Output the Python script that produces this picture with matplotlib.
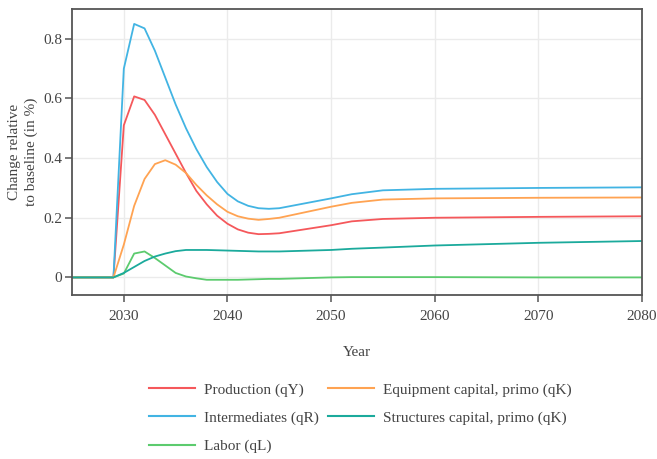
import matplotlib
matplotlib.use("Agg")
import matplotlib.pyplot as plt
from matplotlib.lines import Line2D

plt.rcParams["font.family"] = ["Liberation Serif", "DejaVu Serif"]

# Years of the simulation (annual through 2045, sparser afterwards)
years = [2025, 2026, 2027, 2028, 2029, 2030, 2031, 2032, 2033, 2034, 2035,
         2036, 2037, 2038, 2039, 2040, 2041, 2042, 2043, 2044, 2045,
         2050, 2052, 2055, 2060, 2070, 2080]

production = [0, 0, 0, 0, 0, 0.51, 0.607, 0.595, 0.545, 0.48, 0.415,
              0.35, 0.29, 0.245, 0.207, 0.18, 0.161, 0.15, 0.145, 0.146, 0.148,
              0.175, 0.188, 0.196, 0.200, 0.203, 0.205]
intermediates = [0, 0, 0, 0, 0, 0.70, 0.85, 0.835, 0.76, 0.67, 0.58,
                 0.50, 0.43, 0.37, 0.32, 0.28, 0.255, 0.24, 0.232, 0.23, 0.232,
                 0.265, 0.279, 0.292, 0.297, 0.300, 0.302]
labor = [0, 0, 0, 0, 0, 0.013, 0.08, 0.087, 0.065, 0.04, 0.015,
         0.003, -0.003, -0.008, -0.008, -0.008, -0.008, -0.007, -0.006, -0.005, -0.005,
         0.0, 0.001, 0.001, 0.001, 0.0, 0.0]
equipment = [0, 0, 0, 0, 0, 0.11, 0.24, 0.33, 0.38, 0.393, 0.378,
             0.35, 0.31, 0.275, 0.245, 0.22, 0.205, 0.197, 0.193, 0.196, 0.2,
             0.237, 0.25, 0.261, 0.265, 0.267, 0.268]
structures = [0, 0, 0, 0, 0, 0.015, 0.035, 0.055, 0.07, 0.08, 0.088,
              0.092, 0.092, 0.092, 0.091, 0.09, 0.089, 0.088, 0.087, 0.087, 0.087,
              0.092, 0.096, 0.100, 0.107, 0.116, 0.122]

labels = ["Production (qY)", "Intermediates (qR)", "Labor (qL)",
          "Equipment capital, primo (qK)", "Structures capital, primo (qK)"]
colors = ["#F5585B", "#42B4E3", "#5CCB6E", "#FFA352", "#1BAA9C"]
series = [production, intermediates, labor, equipment, structures]

x_ticks = [2030, 2040, 2050, 2060, 2070, 2080]
y_ticks = [0, 0.2, 0.4, 0.6, 0.8]
y_tick_labels = ["0", "0.2", "0.4", "0.6", "0.8"]

text_color = "#444444"
frame_color = "#555555"

fig = plt.figure(figsize=(6.57, 4.59), dpi=100)
ax = fig.add_axes([72 / 657, 1 - 295 / 459, 570 / 657, 286 / 459])

for vals, col, lab in zip(series, colors, labels):
    ax.plot(years, vals, color=col, lw=1.3, label=lab)

ax.set_xlim(2025, 2080)
ax.set_ylim(-0.059, 0.9)
ax.set_xticks(x_ticks)
ax.set_yticks(y_ticks)
ax.set_yticklabels(y_tick_labels)
ax.grid(True, color="#ebebeb", lw=1.0)
ax.set_axisbelow(True)
for sp in ax.spines.values():
    sp.set_color(frame_color)
    sp.set_linewidth(1.3)
ax.tick_params(axis="both", colors=frame_color, labelcolor=text_color,
               labelsize=11, length=5, width=1.1)
ax.tick_params(axis="x", pad=6)
ax.tick_params(axis="y", pad=2)

ax.set_xlabel("Year", color=text_color, fontsize=11, labelpad=16)
ax.set_ylabel("Change relative\nto baseline (in %)", color=text_color,
              fontsize=11, labelpad=4, linespacing=1.35)

handles = [Line2D([], [], color=c, lw=1.5) for c in colors]
fig.legend(handles, labels, ncol=2, loc="upper left",
           bbox_to_anchor=(135 / 657, 1 - 369 / 459), frameon=False,
           fontsize=11, labelcolor=text_color, handlelength=3.0,
           handletextpad=0.6, columnspacing=0.6, labelspacing=0.95)

fig.savefig("out.png", dpi=100)
